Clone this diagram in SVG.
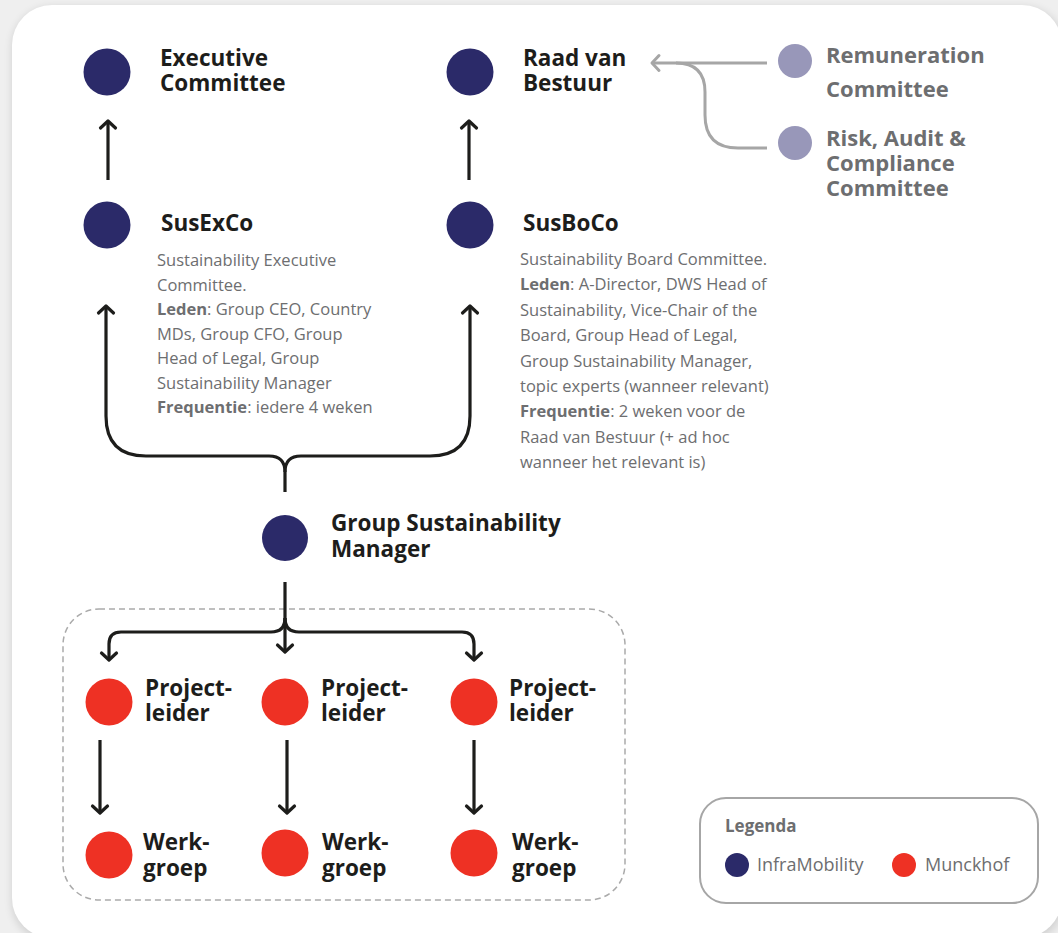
<svg xmlns="http://www.w3.org/2000/svg" width="1058" height="933" viewBox="0 0 1058 933">
<defs>
<filter id="sh" x="-5%" y="-5%" width="110%" height="110%"><feGaussianBlur stdDeviation="4"/></filter>
<marker id="ah" viewBox="-10 -10 20 20" markerWidth="20" markerHeight="20" markerUnits="userSpaceOnUse" orient="auto"><path d="M-7,-7.5 L0,0 L-7,7.5" fill="none" stroke="#1d1d1b" stroke-width="3.2" stroke-linecap="round" stroke-linejoin="round"/></marker>
<marker id="ag" viewBox="-10 -10 20 20" markerWidth="20" markerHeight="20" markerUnits="userSpaceOnUse" orient="auto"><path d="M-7,-7.5 L0,0 L-7,7.5" fill="none" stroke="#a6a6a6" stroke-width="3" stroke-linecap="round" stroke-linejoin="round"/></marker>
<style>
.t{font-family:"Open Sans","Liberation Sans",sans-serif;font-weight:700;font-size:22.5px;fill:#1d1d1b}
.g{font-family:"Open Sans","Liberation Sans",sans-serif;font-weight:700;font-size:22px;fill:#6d6e70}
.d{font-family:"Open Sans","Liberation Sans",sans-serif;font-size:16.5px;fill:#6d6e70}
.d .b{font-weight:700}
.l{font-family:"Open Sans","Liberation Sans",sans-serif;font-size:18px;fill:#6d6e70}
.navy{fill:#2b2a69}
.red{fill:#ee3124}
.lil{fill:#9897b9}
.c{fill:none;stroke:#1d1d1b;stroke-width:3.2;stroke-linecap:butt}
.cg{fill:none;stroke:#a6a6a6;stroke-width:3}
</style>
</defs>
<rect x="0" y="0" width="1058" height="933" fill="#efefef"/>
<rect x="12" y="7" width="1052" height="935" rx="40" fill="#000" opacity="0.12" filter="url(#sh)"/>
<rect x="12" y="5" width="1050" height="933" rx="40" fill="#ffffff"/>
<rect id="group-box" x="63" y="609" width="562" height="291" rx="36" fill="none" stroke="#aaaaaa" stroke-width="1.5" stroke-dasharray="6 4"/>

<g id="connectors">
<path class="c" d="M108,180 L108,121" marker-end="url(#ah)"/>
<path class="c" d="M469,180 L469,121" marker-end="url(#ah)"/>
<path class="c" d="M285,492 L285,472 Q285,456 269,456 L146,456 Q106,456 106,416 L106,306" marker-end="url(#ah)"/>
<path class="c" d="M285,472 Q285,456 301,456 L430,456 Q470,456 470,416 L470,306" marker-end="url(#ah)"/>
<path class="c" d="M285,582 L285,652" marker-end="url(#ah)"/>
<path class="c" d="M285,618 Q285,632 271,632 L121,632 Q109,632 109,644 L109,660" marker-end="url(#ah)"/>
<path class="c" d="M285,618 Q285,632 299,632 L462,632 Q474,632 474,644 L474,660" marker-end="url(#ah)"/>
<path class="c" d="M100,740 L100,813" marker-end="url(#ah)"/>
<path class="c" d="M287,740 L287,813" marker-end="url(#ah)"/>
<path class="c" d="M474,740 L474,813" marker-end="url(#ah)"/>
<path class="cg" d="M767,63 L652,63" marker-end="url(#ag)"/>
<path class="cg" d="M767,148 L738,148 Q705,148 705,115 L705,92 Q705,63 676,63"/>
</g>

<g id="executive-committee">
<circle class="navy" cx="107" cy="72" r="23.5"/>
<text class="t" x="160" y="66">Executive<tspan x="160" dy="25">Committee</tspan></text>
</g>
<g id="raad-van-bestuur">
<circle class="navy" cx="470" cy="72" r="23.5"/>
<text class="t" x="523" y="66">Raad van<tspan x="523" dy="25">Bestuur</tspan></text>
</g>
<g id="remuneration-committee">
<circle class="lil" cx="795" cy="61" r="17"/>
<text class="g" x="826" y="63">Remuneration<tspan x="826" dy="34">Committee</tspan></text>
</g>
<g id="risk-audit-compliance">
<circle class="lil" cx="795" cy="143" r="17"/>
<text class="g" x="826" y="146">Risk, Audit &amp;<tspan x="826" dy="25">Compliance</tspan><tspan x="826" dy="25">Committee</tspan></text>
</g>
<g id="susexco">
<circle class="navy" cx="107" cy="225" r="23.5"/>
<text class="t" x="161" y="231">SusExCo</text>
<text class="d" x="157" y="266">Sustainability Executive<tspan x="157" dy="24.5">Committee.</tspan><tspan x="157" dy="24.5" class="b">Leden</tspan>: Group CEO, Country<tspan x="157" dy="24.5">MDs, Group CFO, Group</tspan><tspan x="157" dy="24.5">Head of Legal, Group</tspan><tspan x="157" dy="24.5">Sustainability Manager</tspan><tspan x="157" dy="24.5" class="b">Frequentie</tspan>: iedere 4 weken</text>
</g>
<g id="susboco">
<circle class="navy" cx="470" cy="225" r="23.5"/>
<text class="t" x="523" y="231">SusBoCo</text>
<text class="d" x="520" y="265">Sustainability Board Committee.<tspan x="520" dy="25.4" class="b">Leden</tspan>: A-Director, DWS Head of<tspan x="520" dy="25.4">Sustainability, Vice-Chair of the</tspan><tspan x="520" dy="25.4">Board, Group Head of Legal,</tspan><tspan x="520" dy="25.4">Group Sustainability Manager,</tspan><tspan x="520" dy="25.4">topic experts (wanneer relevant)</tspan><tspan x="520" dy="25.4" class="b">Frequentie</tspan>: 2 weken voor de<tspan x="520" dy="25.4">Raad van Bestuur (+ ad hoc</tspan><tspan x="520" dy="25.4">wanneer het relevant is)</tspan></text>
</g>
<g id="group-sustainability-manager">
<circle class="navy" cx="285" cy="538" r="23"/>
<text class="t" x="331" y="531">Group Sustainability<tspan x="331" dy="26">Manager</tspan></text>
</g>
<g id="projectleider-1">
<circle class="red" cx="109" cy="702" r="23.5"/>
<text class="t" x="145" y="696">Project-<tspan x="145" dy="25">leider</tspan></text>
</g>
<g id="projectleider-2">
<circle class="red" cx="285" cy="702" r="23.5"/>
<text class="t" x="321" y="696">Project-<tspan x="321" dy="25">leider</tspan></text>
</g>
<g id="projectleider-3">
<circle class="red" cx="474" cy="702" r="23.5"/>
<text class="t" x="509" y="696">Project-<tspan x="509" dy="25">leider</tspan></text>
</g>
<g id="werkgroep-1">
<circle class="red" cx="109" cy="855" r="23.5"/>
<text class="t" x="143" y="850">Werk-<tspan x="143" dy="26">groep</tspan></text>
</g>
<g id="werkgroep-2">
<circle class="red" cx="285" cy="853" r="23.5"/>
<text class="t" x="322" y="850">Werk-<tspan x="322" dy="26">groep</tspan></text>
</g>
<g id="werkgroep-3">
<circle class="red" cx="474" cy="853" r="23.5"/>
<text class="t" x="512" y="850">Werk-<tspan x="512" dy="26">groep</tspan></text>
</g>
<g id="legend">
<rect x="700" y="798" width="338" height="105" rx="26" fill="#ffffff" stroke="#a6a6a6" stroke-width="2"/>
<text class="g" x="725" y="832" style="font-size:17px">Legenda</text>
<circle class="navy" cx="737" cy="865" r="12"/>
<text class="l" x="757" y="871">InfraMobility</text>
<circle class="red" cx="904" cy="865" r="12"/>
<text class="l" x="925" y="871">Munckhof</text>
</g>
</svg>
